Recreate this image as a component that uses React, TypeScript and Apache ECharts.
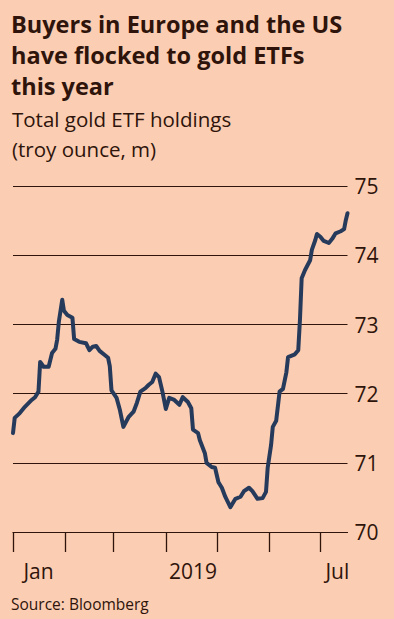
import React, { useEffect, useRef } from "react";
import * as echarts from "echarts";

const dates = [
  "2019-01-01", "2019-01-02", "2019-01-05", "2019-01-08", "2019-01-12", "2019-01-14", "2019-01-16", "2019-01-17",
  "2019-01-19", "2019-01-22", "2019-01-24", "2019-01-26", "2019-01-27", "2019-01-28", "2019-01-30", "2019-01-31",
  "2019-02-02", "2019-02-05", "2019-02-06", "2019-02-09", "2019-02-13", "2019-02-15", "2019-02-17", "2019-02-19",
  "2019-02-21", "2019-02-24", "2019-02-26", "2019-02-27", "2019-02-28", "2019-03-03", "2019-03-05", "2019-03-07",
  "2019-03-10", "2019-03-13", "2019-03-15", "2019-03-17", "2019-03-20", "2019-03-22", "2019-03-24", "2019-03-26",
  "2019-03-28", "2019-03-30", "2019-04-01", "2019-04-03", "2019-04-06", "2019-04-09", "2019-04-11", "2019-04-14",
  "2019-04-16", "2019-04-17", "2019-04-20", "2019-04-21", "2019-04-24", "2019-04-25", "2019-04-28", "2019-04-30",
  "2019-05-02", "2019-05-04", "2019-05-06", "2019-05-09", "2019-05-12", "2019-05-15", "2019-05-17", "2019-05-20",
  "2019-05-22", "2019-05-25", "2019-05-28", "2019-05-30", "2019-05-31", "2019-06-02", "2019-06-03", "2019-06-05",
  "2019-06-07", "2019-06-09", "2019-06-11", "2019-06-12", "2019-06-16", "2019-06-18", "2019-06-19", "2019-06-20",
  "2019-06-22", "2019-06-25", "2019-06-26", "2019-06-28", "2019-06-29", "2019-07-01", "2019-07-03", "2019-07-06",
  "2019-07-08", "2019-07-10", "2019-07-13", "2019-07-15", "2019-07-16", "2019-07-17",
];

const holdings = [
  71.43, 71.65, 71.72, 71.81, 71.91, 71.95, 72.03, 72.46,
  72.39, 72.39, 72.59, 72.65, 72.78, 73.04, 73.36, 73.2,
  73.14, 73.1, 72.79, 72.75, 72.73, 72.63, 72.68, 72.69,
  72.62, 72.56, 72.52, 72.4, 72.05, 71.94, 71.76, 71.52,
  71.66, 71.74, 71.87, 72.03, 72.08, 72.13, 72.17, 72.29,
  72.24, 72.03, 71.78, 71.94, 71.91, 71.84, 71.95, 71.88,
  71.79, 71.48, 71.43, 71.33, 71.14, 71.0, 70.94, 70.93,
  70.72, 70.64, 70.51, 70.36, 70.48, 70.51, 70.59, 70.64,
  70.59, 70.48, 70.49, 70.58, 70.93, 71.26, 71.52, 71.61,
  72.03, 72.07, 72.31, 72.53, 72.57, 72.63, 73.07, 73.67,
  73.79, 73.93, 74.08, 74.22, 74.31, 74.27, 74.21, 74.18,
  74.24, 74.32, 74.35, 74.38, 74.51, 74.61,
];

const startDate = "2019-01-01";
const endDate = "2019-07-17";
const monthStarts = ["2019-01-01", "2019-02-01", "2019-03-01", "2019-04-01", "2019-05-01", "2019-06-01", "2019-07-01"];
const xLabels = [
  { date: "2019-01-16", text: "Jan" },
  { date: "2019-04-17", text: "2019" },
  { date: "2019-07-11", text: "Jul" },
];
const yTicks = [70, 71, 72, 73, 74, 75];

const title = ["Buyers in Europe and the US", "have flocked to gold ETFs", "this year"];
const subtitle = ["Total gold ETF holdings", "(troy ounce, m)"];
const source = "Source: Bloomberg";

const DAY = 86400000;
const dayIndex = (d: string) => Math.round((Date.parse(d + "T00:00:00Z") - Date.parse(startDate + "T00:00:00Z")) / DAY);

const BG = "#fbcdb2";
const INK = "#2e140b";
const LINE = "#263a5c";
const FONT = "'Open Sans', 'Noto Sans', sans-serif";

export default function App() {
  const ref = useRef<HTMLDivElement>(null);
  useEffect(() => {
    if (!ref.current) return;
    const chart = echarts.init(ref.current, undefined, { renderer: "svg" });
    const labelMap: Record<number, string> = {};
    xLabels.forEach((l) => (labelMap[dayIndex(l.date)] = l.text));
    chart.setOption({
      animation: false,
      backgroundColor: BG,
      title: [
        {
          text: title.join("\n"),
          left: 6,
          top: 3,
          textStyle: { fontFamily: FONT, fontSize: 23.5, fontWeight: "bold", color: INK, lineHeight: 31 },
        },
        {
          text: subtitle.join("\n"),
          left: 7,
          top: 99,
          textStyle: { fontFamily: FONT, fontSize: 20.5, fontWeight: "normal", color: INK, lineHeight: 30 },
        },
        {
          text: source,
          left: 6,
          top: 591,
          textStyle: { fontFamily: FONT, fontSize: 15.5, fontWeight: "normal", color: INK },
        },
      ],
      grid: { left: 13, right: 46.5, top: 186.3, bottom: 87, containLabel: false },
      xAxis: {
        type: "value",
        min: 0,
        max: dayIndex(endDate),
        axisLine: { show: true, lineStyle: { color: INK, width: 1.2 } },
        axisTick: {
          show: true,
          customValues: monthStarts.map(dayIndex),
          length: 20,
          lineStyle: { color: INK, width: 1.3 },
        },
        splitLine: { show: false },
        axisLabel: {
          customValues: xLabels.map((l) => dayIndex(l.date)),
          formatter: (v: number) => labelMap[Math.round(v)] ?? "",
          margin: 28,
          fontFamily: FONT,
          fontSize: 21,
          color: INK,
        },
      },
      yAxis: {
        type: "value",
        position: "right",
        min: yTicks[0],
        max: yTicks[yTicks.length - 1],
        interval: 1,
        axisLine: { show: false },
        axisTick: { show: false },
        splitLine: { show: true, lineStyle: { color: INK, width: 1.2 } },
        axisLabel: { margin: 7, fontFamily: FONT, fontSize: 21, color: INK },
      },
      series: [
        {
          type: "line",
          data: dates.map((d, i) => [dayIndex(d), holdings[i]]),
          showSymbol: false,
          symbol: "none",
          lineStyle: { color: LINE, width: 4, join: "round", cap: "round" },
          z: 5,
        },
      ],
    });
    return () => chart.dispose();
  }, []);
  return <div ref={ref} style={{ position: "fixed", left: 0, top: 0, width: 394, height: 619 }} />;
}
